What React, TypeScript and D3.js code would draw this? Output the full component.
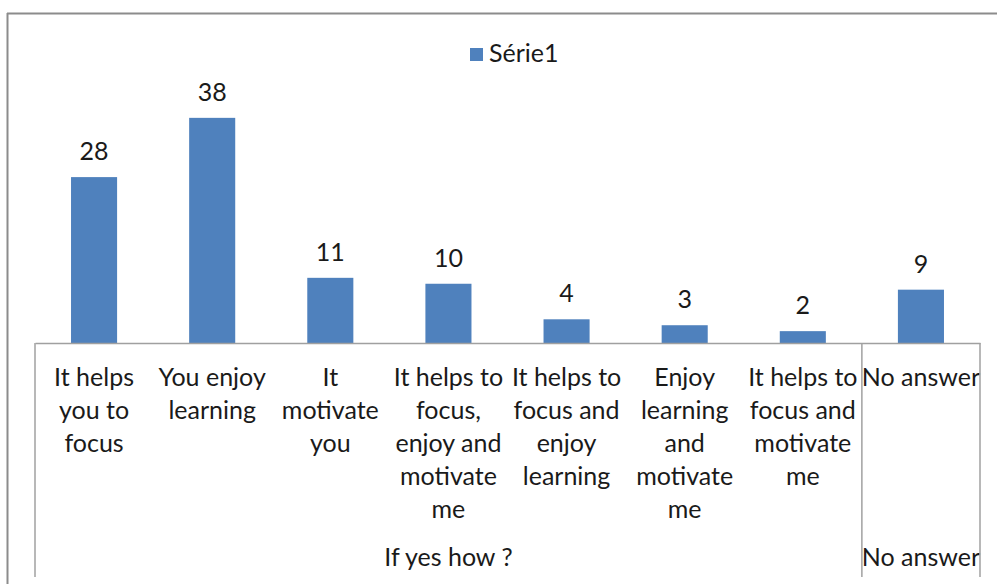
import React, { useEffect, useRef } from 'react';
import * as d3 from 'd3';

const categories = [
  ['It helps', 'you to', 'focus'],
  ['You enjoy', 'learning'],
  ['It', 'motivate', 'you'],
  ['It helps to', 'focus,', 'enjoy and', 'motivate', 'me'],
  ['It helps to', 'focus and', 'enjoy', 'learning'],
  ['Enjoy', 'learning', 'and', 'motivate', 'me'],
  ['It helps to', 'focus and', 'motivate', 'me'],
  ['No answer']
];
const values = [28, 38, 11, 10, 4, 3, 2, 9];
const groups = [
  { name: 'If yes how ?', span: 7 },
  { name: 'No answer', span: 1 }
];
const seriesName = 'Série1';

const W = 997;
const H = 584;
const FONT = 'Lato, "Open Sans", sans-serif';
const BAR = '#4f81bd';
const TEXT = '#1a1a1a';

function App() {
  const ref = useRef<SVGSVGElement>(null);

  useEffect(() => {
    const svg = d3.select(ref.current);
    svg.selectAll('*').remove();

    const margin = { left: 35, right: 17, base: 343, top: 106 };
    const ids = categories.map((_, i) => String(i));

    const x = d3.scaleBand().domain(ids).range([margin.left, W - margin.right]).paddingInner(0).paddingOuter(0);
    const y = d3.scaleLinear().domain([0, 40]).range([margin.base, margin.top]);
    const barW = x.bandwidth() * 0.39;

    // chart frame
    svg.append('line').attr('x1', 7).attr('x2', W).attr('y1', 13.5).attr('y2', 13.5)
      .attr('stroke', '#8c8c8c').attr('stroke-width', 2);
    svg.append('line').attr('x1', 7.5).attr('x2', 7.5).attr('y1', 13).attr('y2', H)
      .attr('stroke', '#8c8c8c').attr('stroke-width', 2);

    // legend
    const lg = svg.append('g').attr('transform', 'translate(470, 48)');
    lg.append('rect').attr('width', 13).attr('height', 13).attr('fill', BAR);
    lg.append('text').attr('x', 19).attr('y', 14).attr('font-family', FONT).attr('font-size', 25)
      .attr('fill', TEXT).text(seriesName);

    // bars
    svg.append('g').selectAll('rect').data(values).enter().append('rect')
      .attr('x', (_, i) => (x(String(i)) as number) + (x.bandwidth() - barW) / 2)
      .attr('y', (d) => y(d))
      .attr('width', barW)
      .attr('height', (d) => y(0) - y(d))
      .attr('fill', BAR);

    // value labels
    svg.append('g').selectAll('text').data(values).enter().append('text')
      .attr('x', (_, i) => (x(String(i)) as number) + x.bandwidth() / 2)
      .attr('y', (d) => y(d) - 17)
      .attr('text-anchor', 'middle')
      .attr('font-family', FONT).attr('font-size', 25).attr('fill', TEXT)
      .text((d) => d);

    // category axis
    const axis = svg.append('g').attr('transform', `translate(0, ${margin.base})`)
      .call(d3.axisBottom(x).tickSize(0).tickSizeOuter(0).tickFormat(() => ''));
    axis.select('.domain').attr('stroke', '#a0a0a0').attr('stroke-width', 1.5);
    axis.selectAll('.tick text').remove();

    const labels = svg.append('g');
    categories.forEach((lines, i) => {
      const t = labels.append('text')
        .attr('text-anchor', 'middle')
        .attr('font-family', FONT).attr('font-size', 25).attr('fill', TEXT);
      lines.forEach((ln, j) => {
        t.append('tspan')
          .attr('x', (x(String(i)) as number) + x.bandwidth() / 2)
          .attr('y', 386 + j * 33)
          .text(ln);
      });
    });

    // group separators and group labels
    let start = 0;
    const bounds = [0];
    groups.forEach((g) => {
      const x0 = x(String(start)) as number;
      const x1 = (x(String(start + g.span - 1)) as number) + x.bandwidth();
      labels.append('text')
        .attr('x', (x0 + x1) / 2).attr('y', 566)
        .attr('text-anchor', 'middle')
        .attr('font-family', FONT).attr('font-size', 25).attr('fill', TEXT)
        .text(g.name);
      start += g.span;
      bounds.push(start);
    });
    svg.append('g').selectAll('line').data(bounds).enter().append('line')
      .attr('x1', (b) => (b < ids.length ? (x(String(b)) as number) : x.range()[1]))
      .attr('x2', (b) => (b < ids.length ? (x(String(b)) as number) : x.range()[1]))
      .attr('y1', margin.base).attr('y2', 577)
      .attr('stroke', '#a0a0a0').attr('stroke-width', 1.5);
  }, []);

  return (
    <svg ref={ref} width={W} height={H} style={{ position: 'absolute', left: 0, top: 0, background: '#fff' }} />
  );
}

export default App;
